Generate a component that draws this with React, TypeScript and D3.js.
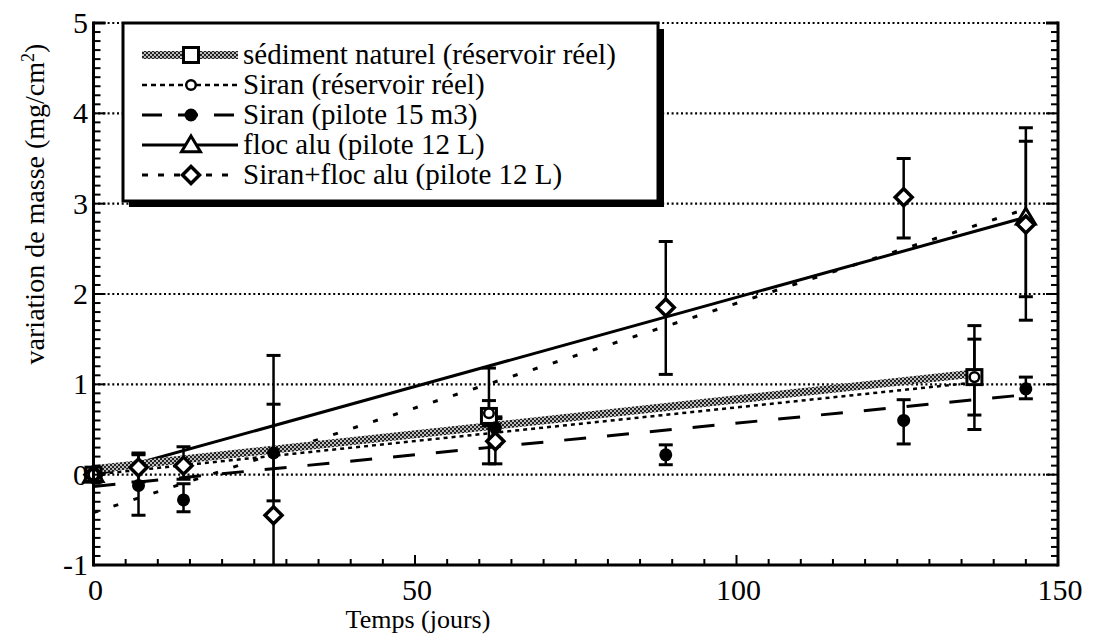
import React from "react";
import * as d3 from "d3";

// ---------- data ----------
const sedDays = [0, 61.5, 137];
const sedVals = [0, 0.65, 1.08];
const sedLo = [null, 0.12, 0.5];
const sedHi = [null, 1.18, 1.65];

const resDays = [0, 61.5, 137];
const resVals = [0, 0.68, 1.08];
const resLo = [null, 0.54, 0.66];
const resHi = [null, 0.82, 1.5];

const pilDays = [0, 7, 14, 28, 62.5, 89, 126, 145];
const pilVals = [0, -0.12, -0.28, 0.24, 0.52, 0.22, 0.6, 0.95];
const pilLo = [null, -0.45, -0.41, -0.29, 0.4, 0.11, 0.34, 0.84];
const pilHi = [null, 0.22, -0.1, 0.78, 0.64, 0.33, 0.83, 1.08];

const flocDays = [0, 145];
const flocVals = [0, 2.85];
const flocLo = [null, 1.97];
const flocHi = [null, 3.69];

const sfDays = [0, 7, 14, 28, 62.5, 89, 126, 145];
const sfVals = [0, 0.08, 0.1, -0.45, 0.37, 1.85, 3.07, 2.77];
const sfLo = [null, -0.08, -0.05, -2.2, 0.12, 1.11, 2.62, 1.71];
const sfHi = [null, 0.24, 0.31, 1.32, 0.62, 2.58, 3.5, 3.84];

// regression lines
const fitSedX = [0, 137];
const fitSedY = [0.06, 1.12];
const fitResX = [0, 137];
const fitResY = [0.0, 1.02];
const fitPilX = [0, 145];
const fitPilY = [-0.13, 0.885];
const fitFlocX = [0, 145];
const fitFlocY = [-0.01, 2.85];
const fitSfX = [0, 145];
const fitSfY = [-0.42, 2.94];

const xTicks = [0, 50, 100, 150];
const yTicks = [-1, 0, 1, 2, 3, 4, 5];
const gridY = [0, 1, 2, 3, 4, 5];

const legendLabels = [
  "sédiment naturel (réservoir réel)",
  "Siran (réservoir réel)",
  "Siran (pilote 15 m3)",
  "floc alu (pilote 12 L)",
  "Siran+floc alu (pilote 12 L)",
];

// ---------- layout ----------
const W = 1094;
const H = 635;
const L = 93.5, R = 1058, T = 23, B = 565;
const FONT = '"Liberation Serif", "DejaVu Serif", "Times New Roman", Times, serif';
const TXT: React.CSSProperties = { fontFamily: FONT };

const x = d3.scaleLinear().domain([0, 150]).range([L, R]);
const y = d3.scaleLinear().domain([-1, 5]).range([B, T]);

type Marker = "square" | "ocircle" | "fcircle" | "triangle" | "diamond";

function MarkerShape({ kind, cx, cy }: { kind: Marker; cx: number; cy: number }) {
  if (kind === "square")
    return <rect x={cx - 7.5} y={cy - 7.5} width={15} height={15} fill="#fff" stroke="#000" strokeWidth={3} />;
  if (kind === "ocircle")
    return <circle cx={cx} cy={cy} r={4.8} fill="#fff" stroke="#000" strokeWidth={2.5} />;
  if (kind === "fcircle") return <circle cx={cx} cy={cy} r={6.5} fill="#000" />;
  if (kind === "triangle") {
    const s = 9;
    return (
      <path
        d={`M${cx},${cy - s} L${cx + s * 1.05},${cy + s * 0.75} L${cx - s * 1.05},${cy + s * 0.75} Z`}
        fill="#fff"
        stroke="#000"
        strokeWidth={3}
      />
    );
  }
  const s = 8.5;
  return (
    <path
      d={`M${cx},${cy - s} L${cx + s},${cy} L${cx},${cy + s} L${cx - s},${cy} Z`}
      fill="#fff"
      stroke="#000"
      strokeWidth={3.5}
    />
  );
}

type Series = {
  days: number[];
  vals: number[];
  lo: (number | null)[];
  hi: (number | null)[];
  marker: Marker;
};

const series: Series[] = [
  { days: sedDays, vals: sedVals, lo: sedLo, hi: sedHi, marker: "square" },
  { days: resDays, vals: resVals, lo: resLo, hi: resHi, marker: "ocircle" },
  { days: pilDays, vals: pilVals, lo: pilLo, hi: pilHi, marker: "fcircle" },
  { days: flocDays, vals: flocVals, lo: flocLo, hi: flocHi, marker: "triangle" },
  { days: sfDays, vals: sfVals, lo: sfLo, hi: sfHi, marker: "diamond" },
];

const lineStyles = [
  { stroke: "url(#hatch)", width: 8, dash: "" },
  { stroke: "#000", width: 2.5, dash: "4 4" },
  { stroke: "#000", width: 3, dash: "22 21" },
  { stroke: "#000", width: 3, dash: "" },
  { stroke: "#000", width: 3, dash: "5 16" },
];

const legendDash = ["", "5 4", "20 16", "", "6 10"];

const fits = [
  { xs: fitSedX, ys: fitSedY },
  { xs: fitResX, ys: fitResY },
  { xs: fitPilX, ys: fitPilY },
  { xs: fitFlocX, ys: fitFlocY },
  { xs: fitSfX, ys: fitSfY },
];

const line = d3
  .line<[number, number]>()
  .x((d) => x(d[0]))
  .y((d) => y(d[1]));

export default function App() {
  const xMinor = d3.range(0, 151, 5);
  const yMinor = d3.range(-10, 51, 1).map((v) => v / 10);

  const fitOrder = [2, 4, 3, 1, 0];

  return (
    <svg width={W} height={H} style={{ position: "absolute", left: 0, top: 0, background: "#fff" }}>
      <defs>
        <pattern id="hatch" patternUnits="userSpaceOnUse" width={4} height={4}>
          <rect width={4} height={4} fill="#222" />
          <circle cx={1} cy={1} r={0.95} fill="#fff" />
          <circle cx={3} cy={3} r={0.95} fill="#fff" />
        </pattern>
        <clipPath id="plot">
          <rect x={L} y={T} width={R - L} height={B - T} />
        </clipPath>
      </defs>
      <rect width={W} height={H} fill="#fff" />

      {gridY.map((g) => (
        <line key={g} x1={L} x2={R} y1={y(g)} y2={y(g)} stroke="#000" strokeWidth={2.2} strokeDasharray="2 2.7" />
      ))}

      <g clipPath="url(#plot)">
        {fitOrder.map((i) => {
          const f = fits[i];
          const st = lineStyles[i];
          const pts = f.xs.map((v, k) => [v, f.ys[k]] as [number, number]);
          return (
            <path
              key={i}
              d={line(pts) || ""}
              fill="none"
              stroke={st.stroke}
              strokeWidth={st.width}
              strokeDasharray={st.dash || undefined}
            />
          );
        })}

        {series.map((s, si) =>
          s.days.map((d, k) => {
            const lo = s.lo[k];
            const hi = s.hi[k];
            if (lo == null || hi == null) return null;
            const cx = x(d);
            return (
              <g key={`e${si}-${k}`} stroke="#000">
                <line x1={cx} x2={cx} y1={y(lo)} y2={y(hi)} strokeWidth={2.5} />
                <line x1={cx - 7} x2={cx + 7} y1={y(lo)} y2={y(lo)} strokeWidth={3} />
                <line x1={cx - 7} x2={cx + 7} y1={y(hi)} y2={y(hi)} strokeWidth={3} />
              </g>
            );
          })
        )}
      </g>

      {[0, 2, 3, 4, 1].map((si) =>
        series[si].days.map((d, k) => (
          <MarkerShape key={`m${si}-${k}`} kind={series[si].marker} cx={x(d)} cy={y(series[si].vals[k])} />
        ))
      )}

      <g stroke="#000">
        <line x1={L} x2={L} y1={T - 1.5} y2={B + 1.5} strokeWidth={3} />
        <line x1={R} x2={R} y1={T - 1.5} y2={B + 1.5} strokeWidth={3} />
        <line x1={L} x2={R} y1={B} y2={B} strokeWidth={3} />
        <line x1={L} x2={L + 12} y1={T} y2={T} strokeWidth={3} />
        <line x1={R - 12} x2={R} y1={T} y2={T} strokeWidth={3} />
        {xMinor.map((v) => (
          <line key={`xt${v}`} x1={x(v)} x2={x(v)} y1={B} y2={B - (v % 50 === 0 ? 10 : 6)} strokeWidth={2} />
        ))}
        {yMinor.map((v) => {
          const major = Math.abs(v - Math.round(v)) < 1e-6;
          const len = major ? 12 : 7;
          return (
            <g key={`yt${v}`}>
              <line x1={L} x2={L + len} y1={y(v)} y2={y(v)} strokeWidth={2} />
              <line x1={R} x2={R - len} y1={y(v)} y2={y(v)} strokeWidth={2} />
            </g>
          );
        })}
      </g>

      <g style={TXT} fontSize={30} fill="#000">
        {xTicks.map((v) => (
          <text key={`xl${v}`} x={x(v) + 2} y={600} textAnchor="middle" style={TXT}>
            {v}
          </text>
        ))}
        {yTicks.map((v) => (
          <text key={`yl${v}`} x={88} y={y(v) + 10} textAnchor="end" style={TXT}>
            {v}
          </text>
        ))}
      </g>

      <text x={418} y={628} textAnchor="middle" style={TXT} fontSize={26}>
        Temps (jours)
      </text>
      <text transform={`translate(44, 204) rotate(-90)`} textAnchor="middle" style={TXT} fontSize={28}>
        variation de masse (mg/cm
        <tspan baselineShift="super" fontSize={18}>
          2
        </tspan>
        )
      </text>

      <g>
        <rect x={129} y={29} width={535} height={178} fill="#000" />
        <rect x={123} y={23} width={535} height={178} fill="#fff" stroke="#000" strokeWidth={3} />
        {legendLabels.map((lab, i) => {
          const cy = 55 + i * 30;
          const st = lineStyles[i];
          return (
            <g key={lab}>
              <line
                x1={142}
                x2={238}
                y1={cy}
                y2={cy}
                stroke={st.stroke}
                strokeWidth={st.width}
                strokeDasharray={legendDash[i] || undefined}
              />
              <MarkerShape kind={series[i].marker} cx={191} cy={cy} />
              <text x={243} y={cy + 9} style={TXT} fontSize={29}>
                {lab}
              </text>
            </g>
          );
        })}
      </g>
    </svg>
  );
}
